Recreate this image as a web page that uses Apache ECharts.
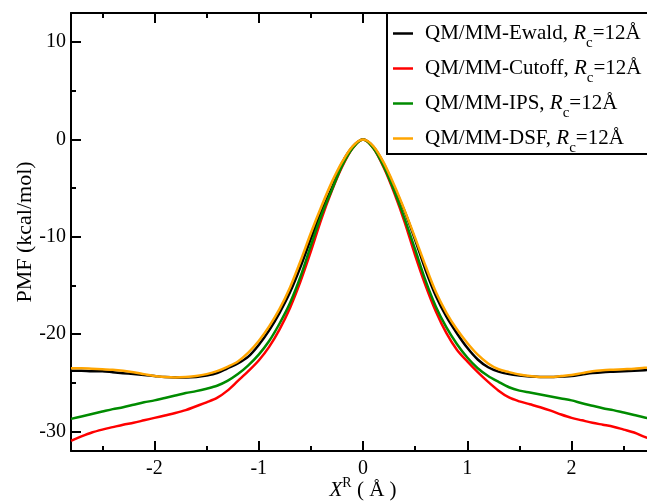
<!DOCTYPE html>
<html>
<head>
<meta charset="utf-8">
<script src="https://cdn.jsdelivr.net/npm/echarts@6/dist/echarts.min.js"></script>
<style>
html,body{margin:0;padding:0;background:#fff;}
#chart{width:647px;height:504px;}
</style>
</head>
<body>
<div id="chart"></div>
<script>
// X^R (Å)
var xs = [-2.8,-2.7,-2.6,-2.5,-2.4,-2.3,-2.2,-2.1,-2.0,-1.9,-1.8,-1.7,-1.6,-1.5,-1.4,-1.3,-1.2,-1.1,-1.0,-0.9,-0.8,-0.7,-0.6,-0.5,-0.4,-0.3,-0.2,-0.1,
  0,
  0.1,0.2,0.3,0.4,0.5,0.6,0.7,0.8,0.9,1.0,1.1,1.2,1.3,1.4,1.5,1.6,1.7,1.8,1.9,2.0,2.1,2.2,2.3,2.4,2.5,2.6,2.7,2.8];

var ewald = [-23.75,-23.75,-23.8,-23.8,-23.9,-24.0,-24.1,-24.2,-24.3,-24.4,-24.45,-24.45,-24.4,-24.25,-24.0,-23.5,-23.0,-22.3,-21.1,-19.6,-17.8,-15.7,-13.1,-10.2,-7.4,-5.0,-2.4,-0.75,
  0,
  -0.75,-2.5,-4.9,-7.4,-10.3,-13.4,-16.1,-18.2,-19.9,-21.4,-22.6,-23.4,-23.85,-24.1,-24.25,-24.35,-24.4,-24.4,-24.35,-24.3,-24.15,-24.0,-23.9,-23.85,-23.8,-23.75,-23.7,-23.65];

var cutoff = [-30.95,-30.5,-30.1,-29.8,-29.55,-29.3,-29.1,-28.85,-28.6,-28.35,-28.1,-27.8,-27.4,-27.0,-26.55,-25.8,-24.8,-23.8,-22.7,-21.3,-19.5,-17.3,-14.6,-11.5,-8.2,-5.3,-2.8,-0.9,
  0,
  -0.9,-2.9,-5.5,-8.5,-11.9,-15.0,-17.7,-19.9,-21.6,-22.8,-23.9,-24.9,-25.8,-26.5,-26.9,-27.2,-27.5,-27.85,-28.25,-28.6,-28.85,-29.1,-29.3,-29.5,-29.8,-30.1,-30.55,-30.9];

var ips = [-28.7,-28.45,-28.2,-27.95,-27.7,-27.5,-27.25,-27.0,-26.8,-26.55,-26.3,-26.05,-25.85,-25.6,-25.3,-24.8,-24.1,-23.2,-22.1,-20.7,-18.9,-16.8,-14.1,-10.9,-7.8,-5.2,-2.7,-0.9,
  0,
  -0.9,-2.8,-5.3,-8.15,-11.3,-14.5,-17.2,-19.3,-21.0,-22.4,-23.5,-24.3,-24.9,-25.45,-25.8,-26.0,-26.2,-26.4,-26.6,-26.8,-27.1,-27.35,-27.6,-27.8,-28.05,-28.3,-28.55,-28.75];

var dsf = [-23.5,-23.5,-23.55,-23.6,-23.65,-23.75,-23.9,-24.1,-24.3,-24.4,-24.45,-24.4,-24.3,-24.1,-23.8,-23.35,-22.8,-21.9,-20.7,-19.2,-17.4,-15.2,-12.5,-9.6,-6.9,-4.4,-2.3,-0.7,
  0,
  -0.7,-2.4,-4.7,-7.3,-10.1,-13.0,-15.7,-17.8,-19.5,-20.9,-22.1,-23.0,-23.6,-23.9,-24.15,-24.3,-24.4,-24.4,-24.3,-24.2,-24.0,-23.8,-23.7,-23.65,-23.6,-23.55,-23.45,-23.4];

var seriesNames = ['Ewald', 'Cutoff', 'IPS', 'DSF'];
var seriesColors = ['#000000', '#ff0000', '#008b00', '#ffa500'];
var seriesValues = [ewald, cutoff, ips, dsf];

var xMajorTicks = [-2, -1, 0, 1, 2];
var xMinorTicks = [-2.5, -1.5, -0.5, 0.5, 1.5, 2.5];
var yMajorTicks = [-30, -20, -10, 0, 10];
var yMinorTicks = [-25, -15, -5, 5];

var FONT = 'Liberation Serif';

function pairs(ys) {
  return xs.map(function (x, i) { return [x, ys[i]]; });
}

function xAxisDef(pos, ticks, len, showLine, showLabel, extra) {
  var a = {
    type: 'value', position: pos, min: -2.8, max: 2.8,
    splitLine: {show: false},
    axisLine: {show: showLine, onZero: false, lineStyle: {color: '#000', width: 2}},
    axisTick: {show: true, inside: true, length: len, customValues: ticks, lineStyle: {color: '#000', width: 2}},
    axisLabel: {show: showLabel, customValues: ticks, color: '#000', fontFamily: FONT, fontSize: 20, margin: 8,
      formatter: function (v) { return String(v); }}
  };
  return Object.assign(a, extra || {});
}
function yAxisDef(pos, ticks, len, showLine, showLabel, extra) {
  var a = {
    type: 'value', position: pos, min: -32, max: 13,
    splitLine: {show: false},
    axisLine: {show: showLine, onZero: false, lineStyle: {color: '#000', width: 2}},
    axisTick: {show: true, inside: true, length: len, customValues: ticks, lineStyle: {color: '#000', width: 2}},
    axisLabel: {show: showLabel, customValues: ticks, color: '#000', fontFamily: FONT, fontSize: 20, margin: 5,
      formatter: function (v) { return String(v); }}
  };
  return Object.assign(a, extra || {});
}

var chart = echarts.init(document.getElementById('chart'), null, {renderer: 'canvas'});

var option = {
  animation: false,
  backgroundColor: '#fff',
  grid: {left: 71, top: 13, width: 584, height: 438, outerBoundsMode: 'none', containLabel: false},
  graphic: [{
    type: 'rect', z: 3, silent: true,
    shape: {x: 387, y: 13, width: 300, height: 141},
    style: {fill: '#fff', stroke: '#000', lineWidth: 2}
  }],
  xAxis: [
    xAxisDef('bottom', xMajorTicks, 10, true, true, {
      name: '{i|X}{sup|R}{a| ( Å )}',
      nameLocation: 'middle', nameGap: 26, nameMoveOverlap: false,
      nameTextStyle: {
        color: '#000', fontFamily: FONT, fontSize: 20,
        rich: {
          i: {fontFamily: FONT, fontSize: 21, fontStyle: 'italic', lineHeight: 26, color: '#000'},
          sup: {fontFamily: FONT, fontSize: 14, lineHeight: 12, padding: [0, 0, 14, 0], color: '#000'},
          a: {fontFamily: FONT, fontSize: 21, lineHeight: 26, color: '#000'}
        }
      }
    }),
    xAxisDef('bottom', xMinorTicks, 5, false, false),
    xAxisDef('top', xMajorTicks, 10, true, false),
    xAxisDef('top', xMinorTicks, 5, false, false)
  ],
  yAxis: [
    yAxisDef('left', yMajorTicks, 10, true, true, {
      name: 'PMF (kcal/mol)',
      nameLocation: 'middle', nameGap: 35, nameRotate: 90, nameMoveOverlap: false,
      nameTextStyle: {color: '#000', fontFamily: FONT, fontSize: 22}
    }),
    yAxisDef('left', yMinorTicks, 5, false, false)
  ],
  legend: {
    orient: 'vertical',
    left: 387, top: 13, z: 5,
    padding: [3, 10, 2, 6],
    itemGap: 0,
    itemWidth: 20, itemHeight: 2.5,
    icon: 'rect',
    data: seriesNames,
    formatter: function (name) {
      return '{a|QM/MM-' + name + ', }{i|R}{s|c}{a|=12Å}';
    },
    textStyle: {
      color: '#000', fontFamily: FONT, fontSize: 21, lineHeight: 30, padding: [0, 0, 0, 7],
      rich: {
        a: {fontFamily: FONT, fontSize: 21, lineHeight: 30, color: '#000'},
        i: {fontFamily: FONT, fontSize: 21, fontStyle: 'italic', lineHeight: 30, color: '#000'},
        s: {fontFamily: FONT, fontSize: 15, lineHeight: 10, padding: [20, 0, 0, 0], color: '#000'}
      }
    }
  },
  series: seriesNames.map(function (n, k) {
    return {
      name: n, type: 'line', xAxisIndex: 0, yAxisIndex: 0,
      data: pairs(seriesValues[k]),
      showSymbol: false, symbol: 'none',
      smooth: 0.3,
      color: seriesColors[k],
      itemStyle: {color: seriesColors[k]},
      lineStyle: {color: seriesColors[k], width: 2.5},
      clip: true
    };
  })
};
chart.setOption(option);
</script>
</body>
</html>
